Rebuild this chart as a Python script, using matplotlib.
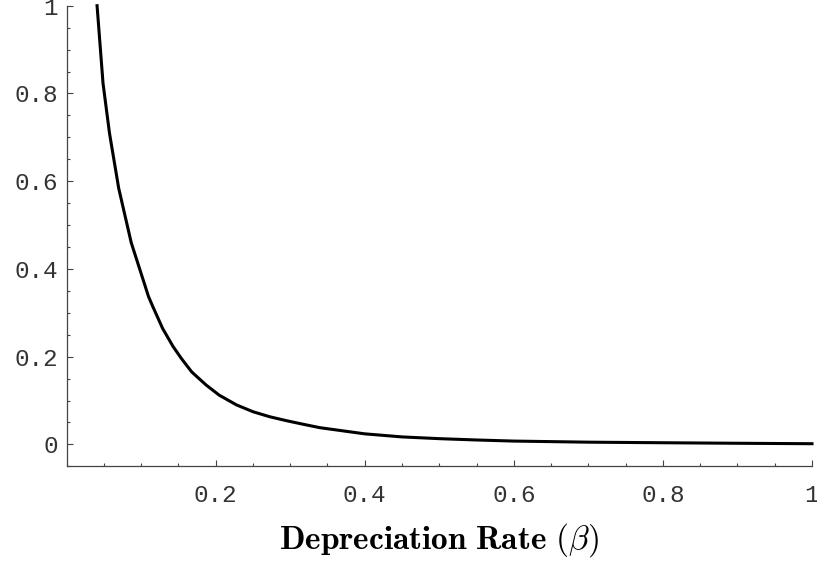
import matplotlib
matplotlib.use("Agg")
import matplotlib.pyplot as plt
from matplotlib.ticker import MultipleLocator, FixedLocator

# values
beta = [0.041, 0.049, 0.0577, 0.070, 0.0868, 0.110, 0.1158, 0.129, 0.143,
        0.154, 0.168, 0.1875, 0.205, 0.228, 0.250, 0.2725, 0.295, 0.317,
        0.340, 0.40, 0.45, 0.50, 0.55, 0.60, 0.70, 0.80, 0.90, 1.0]
value = [1.0, 0.823, 0.709, 0.584, 0.460, 0.337, 0.314, 0.264, 0.223,
         0.196, 0.165, 0.135, 0.112, 0.090, 0.0745, 0.063, 0.054, 0.046,
         0.038, 0.024, 0.017, 0.013, 0.010, 0.0075, 0.005, 0.0037, 0.0025, 0.0015]

x_ticks = [0.2, 0.4, 0.6, 0.8, 1.0]
x_labels = ["0.2", "0.4", "0.6", "0.8", "1"]
y_ticks = [0, 0.2, 0.4, 0.6, 0.8, 1.0]
y_labels = ["0", "0.2", "0.4", "0.6", "0.8", "1"]

plt.rcParams["mathtext.fontset"] = "cm"

fig = plt.figure(figsize=(8.17, 5.62), dpi=100)
ax = fig.add_axes([66.5 / 817, 1 - 466.3 / 562, (812 - 66.5) / 817, (466.3 - 5.7) / 562])

ax.plot(beta, value, color="black", lw=2.2, clip_on=False)

ax.set_xlim(0, 1)
ax.set_ylim(-0.05, 1.0)

for side in ("top", "right"):
    ax.spines[side].set_visible(False)
for side in ("left", "bottom"):
    ax.spines[side].set_color("#444444")
    ax.spines[side].set_linewidth(0.9)

ax.xaxis.set_major_locator(FixedLocator(x_ticks))
ax.yaxis.set_major_locator(FixedLocator(y_ticks))
ax.set_xticklabels(x_labels)
ax.set_yticklabels(y_labels)
ax.xaxis.set_minor_locator(MultipleLocator(0.05))
ax.yaxis.set_minor_locator(MultipleLocator(0.05))

ax.tick_params(which="both", direction="in", color="#444444", width=0.8)
ax.tick_params(which="major", length=4)
ax.tick_params(which="minor", length=2.3)
ax.tick_params(axis="x", which="major", pad=13)
ax.tick_params(axis="y", which="major", pad=6)
for lbl in ax.get_xticklabels() + ax.get_yticklabels():
    lbl.set_family("Liberation Mono")
    lbl.set_fontsize(17.5)
    lbl.set_color("#333333")

ax.set_xlabel(r"$\mathbf{Depreciation\ Rate\ (}\beta\mathbf{)}$", fontsize=24, labelpad=10)

fig.savefig("out.png", dpi=100)
